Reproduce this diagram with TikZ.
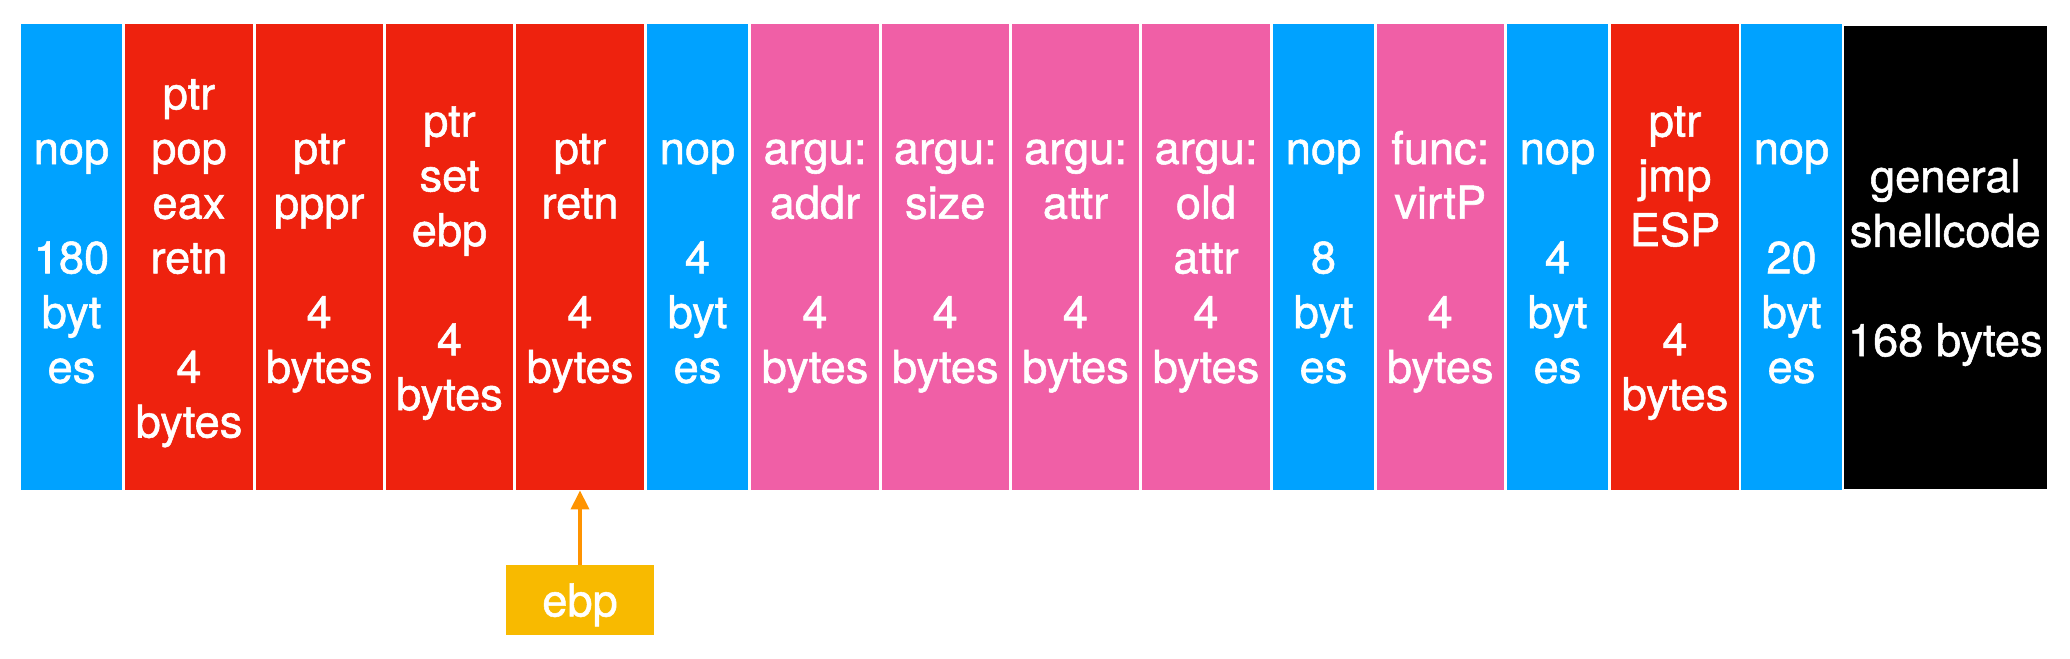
\documentclass[tikz,border=0pt]{standalone}
\usepackage{fontspec}
\setmainfont{TeX Gyre Heros}
\newfontfamily\medfont[BoldFont=TeX Gyre Heros, BoldFeatures={FakeBold=1.2}]{TeX Gyre Heros}
\usetikzlibrary{arrows.meta}
\definecolor{cblue}{RGB}{0,162,255}
\definecolor{cred}{RGB}{238,34,14}
\definecolor{cpink}{RGB}{240,95,166}
\definecolor{cyel}{RGB}{248,186,0}
\definecolor{corange}{RGB}{255,147,0}
\newcommand{\ls}{\rule[-5.4pt]{0pt}{27.2pt}}
\tikzset{
  cell/.style={rectangle, inner sep=0pt, minimum height=233pt, text=white, align=center,
    font=\medfont\bfseries\fontsize{22.6}{27.35}\selectfont},
  narrow/.style={cell, minimum width=50.5pt, fill=cblue},
  wide/.style={cell, minimum width=63.75pt},
  ptrcell/.style={wide, fill=cred},
  argcell/.style={wide, fill=cpink},
}
\begin{document}
\begin{tikzpicture}[x=0.5pt,y=-0.5pt]
\useasboundingbox (0,0) rectangle (2070,658);
\node[narrow] (b1) at (71.5,257) {\ls nop\\\ls\\\ls 180\\\ls byt\\\ls es};
\node[ptrcell] (b2) at (189,257) {\ls ptr\\\ls pop\\\ls eax\\\ls retn\\\ls\\\ls 4\\\ls bytes};
\node[ptrcell] (b3) at (319.25,257) {\ls ptr\\\ls pppr\\\ls\\\ls 4\\\ls bytes};
\node[ptrcell] (b4) at (449.5,257) {\ls ptr\\\ls set\\\ls ebp\\\ls\\\ls 4\\\ls bytes};
\node[ptrcell] (b5) at (580,257) {\ls ptr\\\ls retn\\\ls\\\ls 4\\\ls bytes};
\node[narrow] (b6) at (697.5,257) {\ls nop\\\ls\\\ls 4\\\ls byt\\\ls es};
\node[argcell] (b7) at (815,257) {\ls argu:\\\ls addr\\\ls\\\ls 4\\\ls bytes};
\node[argcell] (b8) at (945.25,257) {\ls argu:\\\ls size\\\ls\\\ls 4\\\ls bytes};
\node[argcell] (b9) at (1075.5,257) {\ls argu:\\\ls attr\\\ls\\\ls 4\\\ls bytes};
\node[argcell] (b10) at (1206,257) {\ls argu:\\\ls old\\\ls attr\\\ls 4\\\ls bytes};
\node[narrow] (b11) at (1323.5,257) {\ls nop\\\ls\\\ls 8\\\ls byt\\\ls es};
\node[argcell] (b12) at (1440.25,257) {\ls func:\\\ls virtP\\\ls\\\ls 4\\\ls bytes};
\node[narrow] (b13) at (1557.5,257) {\ls nop\\\ls\\\ls 4\\\ls byt\\\ls es};
\node[ptrcell] (b14) at (1675,257) {\ls ptr\\\ls jmp\\\ls ESP\\\ls\\\ls 4\\\ls bytes};
\node[narrow] (b15) at (1791.5,257) {\ls nop\\\ls\\\ls 20\\\ls byt\\\ls es};
\node[cell, fill=black, minimum width=101.75pt, minimum height=231.25pt] (b16) at (1945.25,257.75) {\ls general\\\ls shellcode\\\ls\\\ls 168 bytes};
\node[cell, fill=cyel, minimum width=74pt, minimum height=35pt] (ebp) at (580,600) {\ls ebp};
\draw[corange, line width=1.75pt, -{Triangle[width=9pt,length=9.5pt]}] (ebp.north) -- (b5.south);
\end{tikzpicture}
\end{document}
